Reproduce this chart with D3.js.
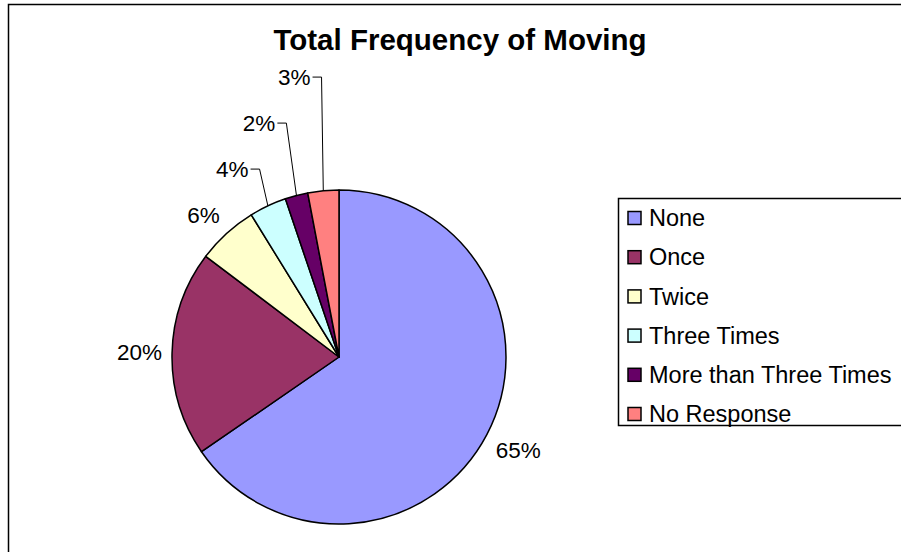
<!DOCTYPE html>
<html>
<head>
<meta charset="utf-8">
<script src="https://cdn.jsdelivr.net/npm/d3@7"></script>
<style>
  body { margin: 0; background: #fff; }
  svg { display: block; font-family: "Liberation Sans", Arial, sans-serif; }
</style>
</head>
<body>
<svg width="901" height="552"></svg>
<script>
// data
var categories = ["None", "Once", "Twice", "Three Times", "More than Three Times", "No Response"];
var values = [65.4, 19.9, 5.9, 3.6, 2.2, 3.0];
var colors = ["#9999FF", "#993366", "#FFFFCC", "#CCFFFF", "#660066", "#FF8080"];
var title = "Total Frequency of Moving";

var svg = d3.select("svg");

// outer chart border (runs off right / bottom)
svg.append("rect")
    .attr("x", 8.5).attr("y", 4.5)
    .attr("width", 1000).attr("height", 1000)
    .attr("fill", "#fff")
    .attr("stroke", "#000").attr("stroke-width", 1.5);

svg.append("text")
    .attr("x", 460).attr("y", 50)
    .attr("text-anchor", "middle")
    .style("font-size", "29.5px")
    .style("font-weight", "bold")
    .text(title);

var cx = 339, cy = 357, r = 167;
var total = d3.sum(values);
var fmt = d3.format(".0%");

var data = categories.map(function(c, i) {
    return { name: c, value: values[i], color: colors[i] };
});

var pie = d3.pie().sort(null).value(function(d) { return d.value; });
var arc = d3.arc().innerRadius(0).outerRadius(r);
var arcs = pie(data);

var g = svg.append("g").attr("transform", "translate(" + cx + "," + cy + ")");

g.selectAll("path.slice")
    .data(arcs)
  .enter().append("path")
    .attr("class", "slice")
    .attr("d", arc)
    .attr("fill", function(d) { return d.data.color; })
    .attr("stroke", "#000")
    .attr("stroke-width", 1.5)
    .attr("stroke-linejoin", "round");

// labels: outside the pie, pushed up when they would overlap
var fontSize = 22.5, lh = 22, gap = 46;
var labels = arcs.map(function(d) {
    var a = (d.startAngle + d.endAngle) / 2;
    var s = Math.sin(a), c = Math.cos(a);
    var px = s * (r + 10), py = -c * (r + 10);
    var k = Math.max(-1, Math.min(1, c * 3));
    return {
        d: d, a: a, s: s, c: c,
        x: px,
        y: py - k * lh / 2,
        edge: [s * r, -c * r],
        anchor: s >= 0 ? "start" : "end",
        moved: false
    };
});

// left side, bottom to top
var left = labels.filter(function(l) { return l.s < 0; })
    .sort(function(a, b) { return b.y - a.y; });
var prev = null;
left.forEach(function(l) {
    if (prev && l.y > prev.y - gap) {
        l.y = prev.y - gap;
        l.moved = true;
        var R = -l.y / l.c;
        l.x = l.s * R - 2;
    }
    prev = l;
});

labels.forEach(function(l) {
    g.append("text")
        .attr("x", l.x)
        .attr("y", l.y)
        .attr("dy", "0.35em")
        .attr("text-anchor", l.anchor)
        .style("font-size", fontSize + "px")
        .text(fmt(l.d.data.value / total));
    if (l.moved) {
        g.append("polyline")
            .attr("points", [[l.x + 2, l.y], [l.x + 11, l.y], l.edge].join(" "))
            .attr("fill", "none")
            .attr("stroke", "#000")
            .attr("stroke-width", 1);
    }
});

// legend
var lx = 618, ly = 198;
svg.append("rect")
    .attr("x", lx + 0.5).attr("y", ly + 0.5)
    .attr("width", 400).attr("height", 227)
    .attr("fill", "#fff")
    .attr("stroke", "#000").attr("stroke-width", 1.5);

var rowY = d3.scalePoint().domain(categories).range([218, 414]);

var items = svg.selectAll("g.item")
    .data(data)
  .enter().append("g")
    .attr("class", "item")
    .attr("transform", function(d) { return "translate(" + (lx + 10) + "," + rowY(d.name) + ")"; });

items.append("rect")
    .attr("x", 0).attr("y", -6.5)
    .attr("width", 13).attr("height", 13)
    .attr("fill", function(d) { return d.color; })
    .attr("stroke", "#000").attr("stroke-width", 1.5);

items.append("text")
    .attr("x", 21)
    .attr("dy", "0.35em")
    .style("font-size", "23.5px")
    .text(function(d) { return d.name; });
</script>
</body>
</html>
